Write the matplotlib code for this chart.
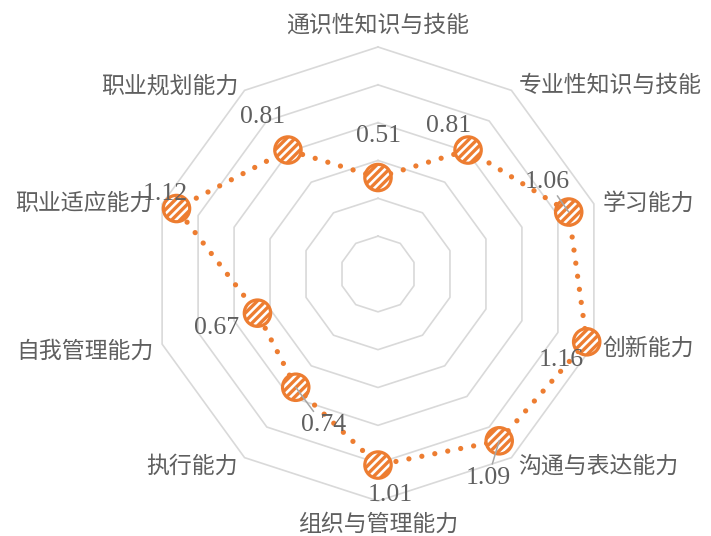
import numpy as np
import matplotlib
matplotlib.use("Agg")
import matplotlib.pyplot as plt

plt.rcParams['font.family'] = ['Noto Sans CJK SC', 'DejaVu Sans']
plt.rcParams['hatch.linewidth'] = 2.4

categories = ['通识性知识与技能', '专业性知识与技能', '学习能力', '创新能力', '沟通与表达能力',
              '组织与管理能力', '执行能力', '自我管理能力', '职业适应能力', '职业规划能力']
values = [0.51, 0.81, 1.06, 1.16, 1.09, 1.01, 0.74, 0.67, 1.12, 0.81]
ring_levels = [0.2, 0.4, 0.6, 0.8, 1.0, 1.2]
r_max = 1.2

ORANGE = '#ED7D31'
GRID = '#D9D9D9'
TEXT = '#5F5F5F'

n = len(categories)
theta = np.arange(n) * 2 * np.pi / n
theta_c = np.append(theta, theta[0])

fig = plt.figure(figsize=(7.11, 5.36), dpi=100)
ax = fig.add_axes([151/711, 35/536, 454/711, 454/536], projection='polar')
ax.set_theta_zero_location('N')
ax.set_theta_direction(-1)
ax.set_ylim(0, r_max)
ax.grid(False)
ax.set_xticks([])
ax.set_yticks([])
ax.spines['polar'].set_visible(False)
ax.patch.set_alpha(0)

for lv in ring_levels:
    ax.plot(theta_c, [lv] * (n + 1), color=GRID, lw=1.2, zorder=1, clip_on=False)

vals_c = values + values[:1]
ax.plot(theta_c, vals_c, color=ORANGE, lw=3.8, linestyle=(0, (0.001, 2.5)),
        dash_capstyle='round', zorder=2, clip_on=False)
ax.scatter(theta, values, s=19.0**2, facecolor='white', edgecolor=ORANGE,
           linewidths=2.3, hatch='////', zorder=3, clip_on=False)

# category labels: (dx, dy, ha)
cat_off = [(0, 22, 'center'), (7, 5, 'left'), (9, 1, 'left'), (9, -4, 'left'),
           (7, -9, 'left'), (0, -23, 'center'), (-7, -8.5, 'right'),
           (-9, -7, 'right'), (-10, 1, 'right'), (-6, 4, 'right')]
for t, lab, (dx, dy, ha) in zip(theta, categories, cat_off):
    ax.annotate(lab, xy=(t, r_max), xytext=(dx, dy), textcoords='offset pixels',
                ha=ha, va='center', fontsize=16.5, color=TEXT, weight='light',
                annotation_clip=False)

# data labels: (dx, dy, leader)
lab_off = [(0, 42, False), (-20, 24.5, False), (-21, 30, True), (-25, -18, False),
           (-11, -37, True), (12, -30, False), (28, -38, True), (-41, -15, False),
           (-11, 15, False), (-25, 33, False)]
for t, v, (dx, dy, lead) in zip(theta, values, lab_off):
    kw = {}
    if lead:
        kw['arrowprops'] = dict(arrowstyle='-', color='#A6A6A6', lw=1.1,
                                shrinkA=0, shrinkB=0)
    ax.annotate(f'{v:.2f}', xy=(t, v), xytext=(dx, dy), textcoords='offset pixels',
                ha='center', va='center', fontsize=18.5, family='Liberation Serif',
                color=TEXT, zorder=4, annotation_clip=False, **kw)

fig.savefig('out.png', dpi=100, facecolor='white')
